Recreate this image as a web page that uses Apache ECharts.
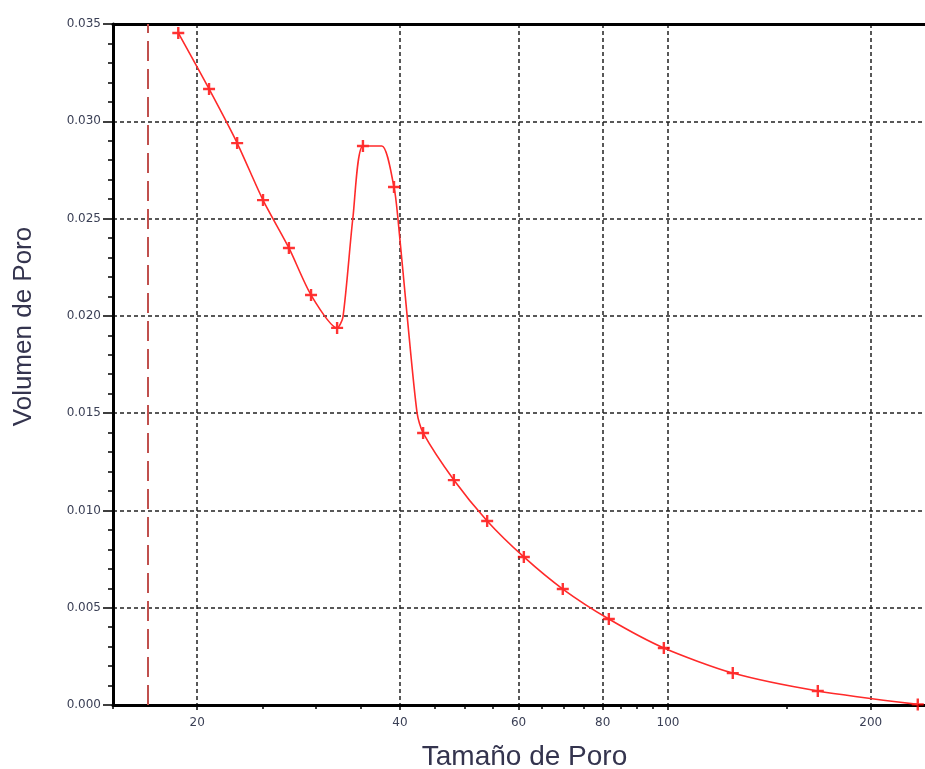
<!DOCTYPE html>
<html>
<head>
<meta charset="utf-8">
<script src="https://cdn.jsdelivr.net/npm/echarts@6/dist/echarts.min.js"></script>
<style>
html, body { margin: 0; padding: 0; background: #fff; }
#main { width: 925px; height: 769px; }
</style>
</head>
<body>
<div id="main"></div>
<script>
// measured points (with + markers)
var poreSize = [18.75, 20.83, 22.93, 25.05, 27.37, 29.52, 32.27, 35.25, 39.2, 43.3, 48.1, 53.9, 61.1, 69.8, 81.7, 98.6, 124.8, 166.9, 234.9];
var poreVolume = [0.03454, 0.03166, 0.02888, 0.02595, 0.02349, 0.02107, 0.01938, 0.02873, 0.02662, 0.01398, 0.01156, 0.00946, 0.00761, 0.00596, 0.00442, 0.00293, 0.00164, 0.00072, 0.00003];

// curve as drawn (markers plus the visible bends of the line)
var curveSize = [18.75, 20.83, 22.93, 25.05, 27.37, 29.52, 32.27, 32.92, 34.07, 35.25, 37.6, 39.2, 39.73, 41.0, 42.42, 43.3, 48.1, 53.9, 61.1, 69.8, 81.7, 98.6, 124.8, 166.9, 234.9];
var curveVolume = [0.03454, 0.03166, 0.02888, 0.02595, 0.02349, 0.02107, 0.01938, 0.01994, 0.02508, 0.02873, 0.02873, 0.02662, 0.0250, 0.0200, 0.0150, 0.01398, 0.01156, 0.00946, 0.00761, 0.00596, 0.00442, 0.00293, 0.00164, 0.00072, 0.00003];

var xMajorTicks = [20, 40, 60, 80, 100, 200];
var xMinorTicks = [15, 25, 30, 35, 45, 50, 55, 65, 70, 75, 85, 90, 95, 150];
var cutoffSize = 16.9;

var labelColor = '#3a3f55';
var titleColor = '#34344e';

var chart = echarts.init(document.getElementById('main'));

function pairs(xs, ys) {
    return xs.map(function (x, i) { return [x, ys[i]]; });
}

var option = {
    animation: false,
    grid: { left: 113, top: 24, bottom: 64, width: 823, outerBoundsMode: 'none', containLabel: false },
    xAxis: [
        {
            type: 'log', logBase: 10, min: 15, max: 250, position: 'bottom',
            name: 'Tamaño de Poro', nameLocation: 'middle', nameGap: 38,
            nameTextStyle: { fontFamily: 'Liberation Sans', fontSize: 28, color: titleColor },
            axisLine: { lineStyle: { color: '#000', width: 3 } },
            axisTick: { customValues: xMajorTicks, length: 5, lineStyle: { color: '#000', width: 1.5 } },
            axisLabel: {
                customValues: xMajorTicks, margin: 12,
                fontFamily: 'DejaVu Sans', fontSize: 12, color: labelColor
            },
            splitLine: { show: true, lineStyle: { color: '#222', width: 1.5, type: [4, 3] } }
        },
        {
            type: 'log', logBase: 10, min: 15, max: 250, position: 'bottom',
            axisLine: { show: false },
            axisTick: { customValues: xMinorTicks, length: 4, lineStyle: { color: '#000', width: 1.5 } },
            axisLabel: { show: false },
            splitLine: { show: false }
        },
        {
            type: 'log', logBase: 10, min: 15, max: 250, position: 'top',
            axisLine: { lineStyle: { color: '#000', width: 3 } },
            axisTick: { show: false },
            axisLabel: { show: false },
            splitLine: { show: false }
        }
    ],
    yAxis: {
        type: 'value', min: 0, max: 0.035, interval: 0.005,
        name: 'Volumen de Poro', nameLocation: 'middle', nameGap: 76,
        nameTextStyle: { fontFamily: 'Liberation Sans', fontSize: 26, color: titleColor, padding: [0, 0, 0, 76] },
        axisLine: { show: true, lineStyle: { color: '#000', width: 3 } },
        axisTick: { show: true, length: 10, lineStyle: { color: '#000', width: 1.5 } },
        minorTick: { show: true, splitNumber: 5, length: 5, lineStyle: { color: '#000', width: 1.5 } },
        axisLabel: {
            margin: 12, fontFamily: 'DejaVu Sans', fontSize: 12, color: labelColor,
            formatter: function (v) { return v.toFixed(3); }
        },
        splitLine: { show: true, lineStyle: { color: '#222', width: 1.5, type: [4, 3] } }
    },
    series: [
        {
            type: 'line', xAxisIndex: 0,
            data: pairs(curveSize, curveVolume),
            smooth: 0.25,
            showSymbol: false,
            lineStyle: { color: '#ff2a2a', width: 1.6 },
            markLine: {
                silent: true, symbol: ['none', 'none'],
                label: { show: false },
                lineStyle: { color: '#c0504d', width: 2, type: [20, 8] },
                data: [{ xAxis: cutoffSize }]
            }
        },
        {
            type: 'scatter', xAxisIndex: 0,
            data: pairs(poreSize, poreVolume),
            symbol: 'path://M4,0H6V4H10V6H6V10H4V6H0V4H4Z',
            symbolSize: 12,
            itemStyle: { color: '#ff0000' }
        }
    ]
};

chart.setOption(option);
</script>
</body>
</html>
